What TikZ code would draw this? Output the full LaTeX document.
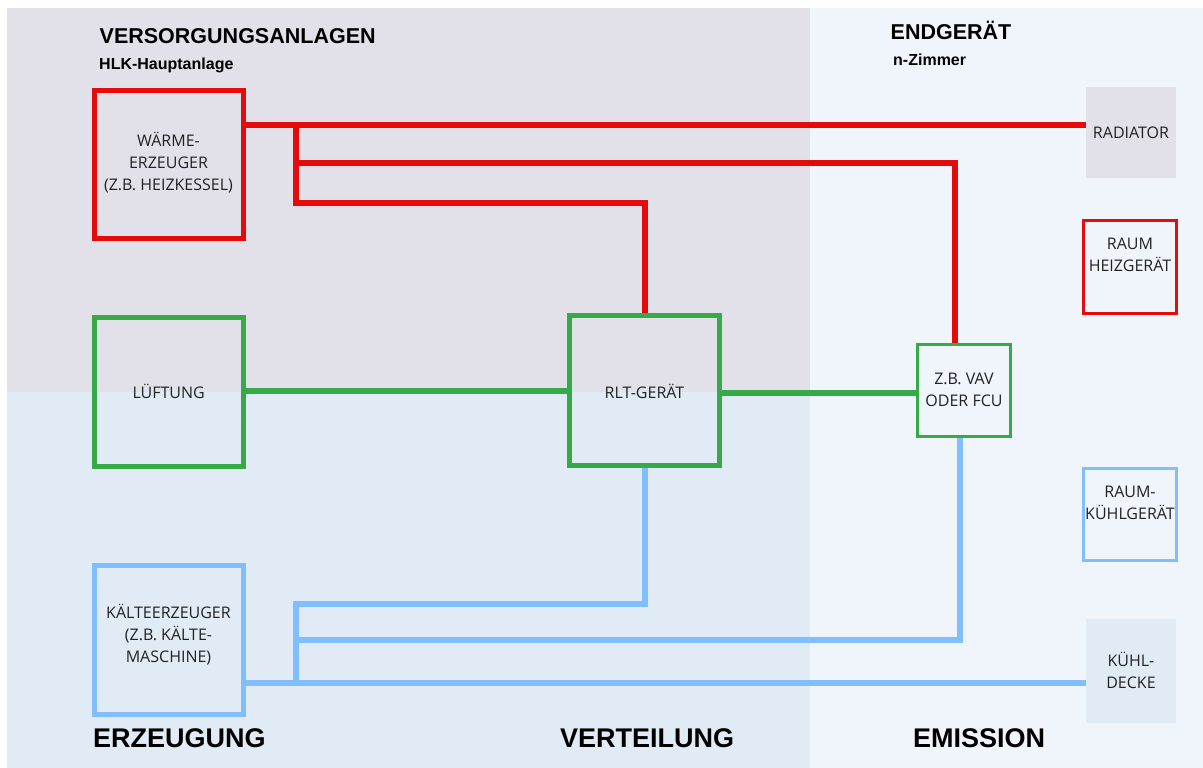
\documentclass[tikz,border=0pt]{standalone}
\usepackage{fontspec}
\setmainfont{Open Sans}
\newfontfamily\hfont{Liberation Sans}
\definecolor{bgA}{HTML}{E2E0E9}
\definecolor{bgB}{HTML}{E1EBF5}
\definecolor{bgC}{HTML}{F0F4FB}
\definecolor{cred}{HTML}{E50B0B}
\definecolor{cgreen}{HTML}{35AA46}
\definecolor{cblue}{HTML}{80BEFF}
\definecolor{txt}{HTML}{222222}
\pgfdeclarelayer{back}
\pgfdeclarelayer{mid}
\pgfsetlayers{back,mid,main}
\tikzset{
  bigbox/.style={draw, line width=5pt, minimum width=149pt, minimum height=149pt, inner sep=0pt},
  smallbox/.style={draw, line width=3pt, minimum width=93pt, minimum height=93pt, inner sep=0pt},
  fillbox/.style={draw=none, inner sep=0pt},
  boxtext/.style={text=txt, align=center, inner sep=0pt, font=\fontsize{16}{22}\selectfont},
  pipe/.style={line width=6pt, line join=miter},
  bigtitle/.style={anchor=base west, inner sep=0pt, text=black, font=\hfont\bfseries\fontsize{27}{27}\selectfont},
  headtitle/.style={anchor=base west, inner sep=0pt, text=black, font=\hfont\bfseries\fontsize{21.5}{21.5}\selectfont},
  subtitle/.style={anchor=base west, inner sep=0pt, text=black, font=\hfont\bfseries\fontsize{16}{16}\selectfont},
}
\begin{document}
\begin{tikzpicture}[x=1pt,y=-1pt]
\useasboundingbox (0,0) rectangle (1203,768);
\begin{pgfonlayer}{back}
\fill[white] (0,0) rectangle (1203,768);
\fill[bgA] (7,8) rectangle (810,392);
\fill[bgB] (7,392) rectangle (810,768);
\fill[bgC] (810,8) rectangle (1203,768);
\end{pgfonlayer}

% titles
\node[headtitle] (t1) at (99.5,43.3) {VERSORGUNGSANLAGEN};
\node[subtitle] (t2) at (99,69.3) {HLK-Hauptanlage};
\node[headtitle] (t3) at (890.5,39.3) {ENDGERÄT};
\node[subtitle] (t4) at (893,65.3) {n-Zimmer};
\node[bigtitle] (t5) at (93,747.3) {ERZEUGUNG};
\node[bigtitle] (t6) at (560,747.3) {VERTEILUNG};
\node[bigtitle] (t7) at (913,747.3) {EMISSION};

% boxes
\node[bigbox, draw=cred, minimum height=148pt] (warm) at (168.5,164.5) {};
\node[boxtext] (warmt) at (168.5,163) {WÄRME-\\ERZEUGER\\(Z.B. HEIZKESSEL)};
\node[bigbox, draw=cgreen] (luft) at (168.7,392) {};
\node[boxtext] (luftt) at (168.7,391) {LÜFTUNG};
\node[bigbox, draw=cblue] (kalt) at (168.5,640) {};
\node[boxtext] (kaltt) at (168.5,635) {KÄLTEERZEUGER\\(Z.B. KÄLTE-\\MASCHINE)};
\node[bigbox, draw=cgreen, minimum width=150pt, minimum height=150pt] (rlt) at (644.5,390.5) {};
\node[boxtext] (rltt) at (644.5,391) {RLT-GERÄT};
\node[smallbox, draw=cgreen, line width=2.6pt, minimum height=92pt] (vav) at (964,390.5) {};
\node[boxtext] (vavt) at (964,390) {Z.B. VAV\\ODER FCU};

\node[fillbox, fill=bgA, minimum width=90pt, minimum height=91pt] (rad) at (1131,132.5) {};
\node[boxtext] (radt) at (1131,133) {RADIATOR};
\node[smallbox, draw=cred] (rh) at (1130,267) {};
\node[boxtext] (rht) at (1130,254.5) {RAUM\\HEIZGERÄT};
\node[smallbox, draw=cblue, minimum height=92pt] (rk) at (1130,514.5) {};
\node[boxtext] (rkt) at (1130,502.5) {RAUM-\\KÜHLGERÄT};
\node[fillbox, fill=bgB, minimum width=90pt, minimum height=104pt] (kd) at (1131,671) {};
\node[boxtext] (kdt) at (1131,670) {KÜHL-\\DECKE};

% connector coordinates
\coordinate (jr) at (296,124.5);
\coordinate (hr2) at (296,162.5);
\coordinate (hr3) at (296,203);
\coordinate (vr) at (955,162.5);
\coordinate (g1) at (400,391);
\coordinate (g2) at (800,393);
\coordinate (jb) at (296,683);
\coordinate (hb1) at (296,604);
\coordinate (hb2) at (296,639.5);
\coordinate (vb) at (960,639.5);

\begin{pgfonlayer}{mid}
\draw[pipe,cred] (warm.east |- jr) -- (rad.west |- jr);
\draw[pipe,cred] (jr) -- (hr3) -- (rlt.north |- hr3) -- (rlt.north);
\draw[pipe,cred] (hr2) -- (vr) -- (vr |- vav.north);
\draw[pipe,cgreen] (luft.east |- g1) -- (rlt.west |- g1);
\draw[pipe,cgreen] (rlt.east |- g2) -- (vav.west |- g2);
\draw[pipe,cblue] (kalt.east |- jb) -- (kd.west |- jb);
\draw[pipe,cblue] (jb) -- (hb1) -- (rlt.south |- hb1) -- (rlt.south);
\draw[pipe,cblue] (hb2) -- (vb) -- (vb |- vav.south);
\end{pgfonlayer}
\end{tikzpicture}
\end{document}
